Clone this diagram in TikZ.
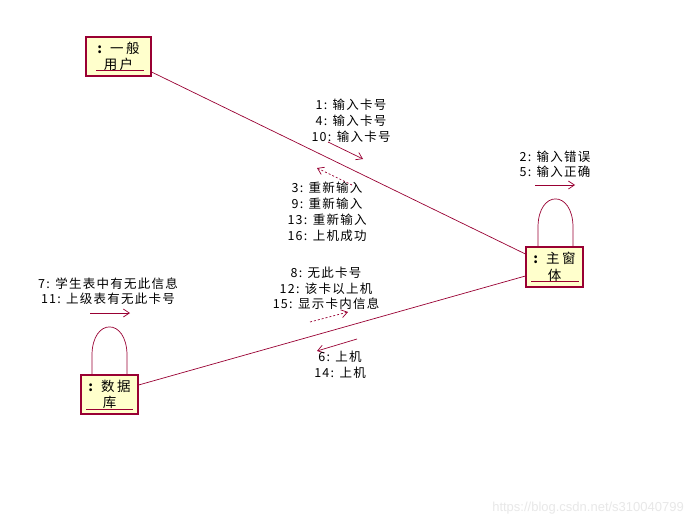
\documentclass[tikz,border=0pt]{standalone}
\usepackage{fontspec}
\setmainfont{Liberation Sans}
\newfontfamily\cjk{Noto Sans CJK SC}[LetterSpace=10]
\newfontfamily\cjkbox{Noto Sans CJK SC}[LetterSpace=18]
\usetikzlibrary{arrows.meta}
\definecolor{uml}{RGB}{153,0,51}
\definecolor{boxfill}{RGB}{255,255,204}
\definecolor{wm}{RGB}{232,232,232}
\begin{document}
\begin{tikzpicture}[x=1pt,y=-1pt,
  obj/.style={draw=uml,fill=boxfill,line width=1.2pt,minimum width=#1,inner sep=0pt,align=center,font=\cjkbox\fontsize{13.5}{16}\selectfont},
  link/.style={draw=uml,line width=0.7pt},
  msg/.style={draw=uml,line width=0.7pt,-{Straight Barb[length=6pt,width=8pt,line width=0.7pt]}},
  rmsg/.style={msg,dash pattern=on 2pt off 2pt},
  lbl/.style={align=center,inner sep=0pt,font=\cjk\fontsize{12.5}{16}\selectfont}]
\useasboundingbox (0,0) rectangle (695,524);
\fill[white] (0,0) rectangle (695,524);
% objects
\node[obj=65pt,minimum height=39pt] (user) at (118.5,56.5) {\textbf{:}\ 一般\\用户};
\node[obj=57pt,minimum height=40pt] (main) at (554.5,267) {\textbf{:}\ 主窗\\[1pt]体};
\node[obj=57pt,minimum height=39pt] (db) at (109.5,394.5) {\textbf{:}\ 数据\\库};
% underlines
\draw[uml,line width=0.8pt] ([xshift=11pt,yshift=6pt]user.south west) -- ([xshift=-8pt,yshift=6pt]user.south east);
\draw[uml,line width=0.8pt] ([xshift=6pt,yshift=6pt]main.south west) -- ([xshift=-5pt,yshift=6pt]main.south east);
\draw[uml,line width=0.8pt] ([xshift=6pt,yshift=5pt]db.south west) -- ([xshift=-6pt,yshift=5pt]db.south east);
% links
\draw[link] (user.east|-0,72) -- (main.west|-0,254);
\draw[link] (db.east|-0,385) -- (main.west|-0,276);
% self loops
\draw[link] ([xshift=-16.5pt]main.north) -- ++(0,-19) .. controls +(0,-38) and +(0,-38) .. ++(35,0) -- ([xshift=18.5pt]main.north);
\draw[link] ([xshift=-17.5pt]db.north) -- ++(0,-19) .. controls +(0,-38) and +(0,-38) .. ++(35,0) -- ([xshift=17.5pt]db.north);
% message arrows
\coordinate (m1s) at (328,142); \coordinate (m1e) at (363,159);
\draw[msg] (m1s) -- (m1e);
\coordinate (m3s) at (352,185); \coordinate (m3e) at (317,168);
\draw[rmsg] (m3s) -- (m3e);
\coordinate (m2s) at (535,185); \coordinate (m2e) at (575,185);
\draw[msg] (m2s) -- (m2e);
\coordinate (m7s) at (90,313); \coordinate (m7e) at (130,313);
\draw[msg] (m7s) -- (m7e);
\coordinate (m8s) at (310,322); \coordinate (m8e) at (348,312);
\draw[rmsg] (m8s) -- (m8e);
\coordinate (m6s) at (357,339); \coordinate (m6e) at (317,351);
\draw[msg] (m6s) -- (m6e);
% labels
\node[lbl] (l1) at (351,121) {1: 输入卡号\\4: 输入卡号\\10: 输入卡号};
\node[lbl] (l3) at (327,211.5) {3: 重新输入\\9: 重新输入\\13: 重新输入\\16: 上机成功};
\node[lbl,font=\cjk\fontsize{12.5}{15}\selectfont] (l2) at (555,164.5) {2: 输入错误\\5: 输入正确};
\node[lbl,font=\cjk\fontsize{12.5}{15}\selectfont] (l7) at (108,291.5) {7: 学生表中有无此信息\\11: 上级表有无此卡号};
\node[lbl,font=\cjk\fontsize{12.5}{15.5}\selectfont] (l8) at (326,288.5) {8: 无此卡号\\12: 该卡以上机\\15: 显示卡内信息};
\node[lbl] (l6) at (340,365) {6: 上机\\14: 上机};
% watermark
\node[text=wm,font=\fontsize{13}{15}\selectfont,anchor=east,inner sep=0pt] (wmk) at (684,508) {https://blog.csdn.net/s310040799};
\end{tikzpicture}
\end{document}
